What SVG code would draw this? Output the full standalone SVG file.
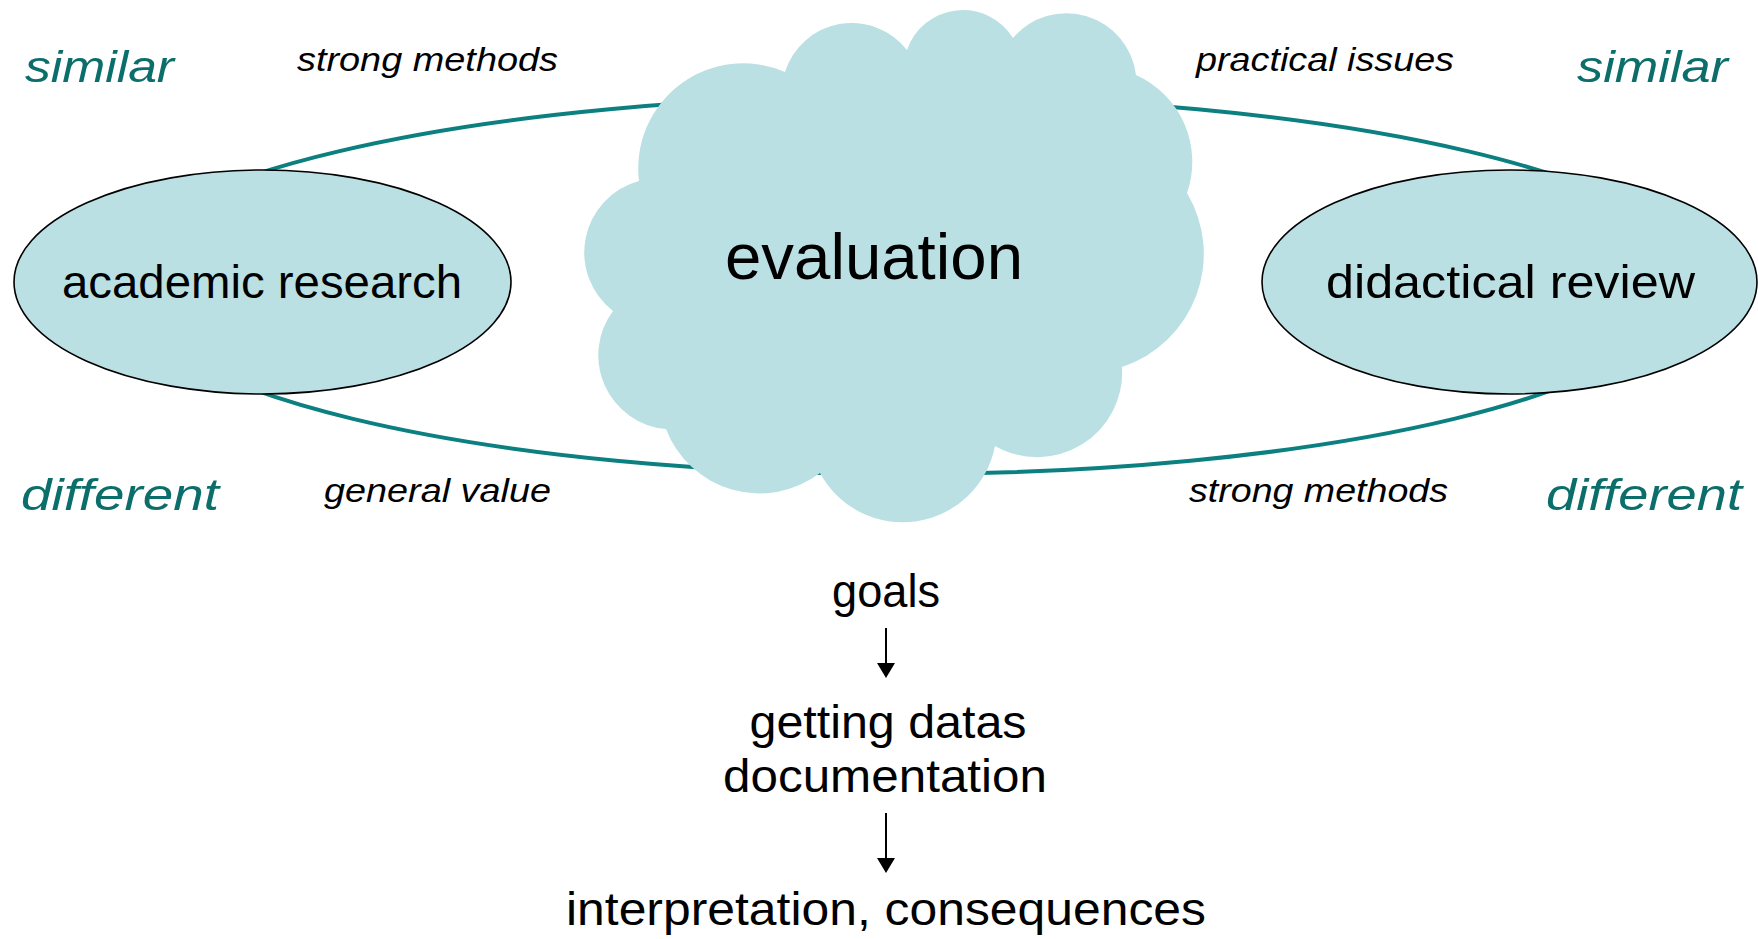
<svg xmlns="http://www.w3.org/2000/svg" width="1758" height="939" viewBox="0 0 1758 939">
<defs>
<style>
.bg{fill:#ffffff}
.loop{fill:none;stroke:#0c8080;stroke-width:4}
.node{fill:#bae0e3;stroke:#000000;stroke-width:1.6}
.cloud{fill:#bae0e3;stroke:none}
text{font-family:"Liberation Sans Narrow","Liberation Sans",Arial,sans-serif;fill:#000000}
.main{font-size:46px}
.big{font-size:64px}
.lab{font-size:33px;font-style:italic}
.cmp{font-size:45px;font-style:italic;fill:#0b6e6b}
.mid{text-anchor:middle}
.arr{stroke:#000000;stroke-width:2;fill:none}
</style>
<marker id="ah" markerWidth="15" markerHeight="18" refX="5" refY="9" orient="auto" markerUnits="userSpaceOnUse" viewBox="0 0 15 18">
<path d="M0,0 L15,9 L0,18 Z" fill="#000000"/>
</marker>
</defs>
<rect class="bg" x="0" y="0" width="1758" height="939"/>
<g id="connectors">
<path class="loop" d="M104.5,285 A799,189 0 0 1 1702.5,285 L1683.5,285 A780,189 0 0 1 123.5,285 Z"/>
<line class="arr" x1="886" y1="628" x2="886" y2="668" marker-end="url(#ah)"/>
<line class="arr" x1="886" y1="813" x2="886" y2="863" marker-end="url(#ah)"/>
</g>
<g id="node-academic">
<ellipse class="node" cx="262.5" cy="282" rx="248.5" ry="112"/>
<text class="main" x="62" y="298" textLength="400" lengthAdjust="spacingAndGlyphs">academic research</text>
</g>
<g id="node-didactical">
<ellipse class="node" cx="1509.5" cy="282" rx="247.5" ry="112"/>
<text class="main" x="1326" y="298" textLength="369" lengthAdjust="spacingAndGlyphs">didactical review</text>
</g>
<g id="node-evaluation">
<path class="cloud" d="M639,181 A105,105 0 0 1 785,72 A70,70 0 0 1 907,50 A59,59 0 0 1 1013,38 A70,70 0 0 1 1136,75 A95,95 0 0 1 1187,193 A119,119 0 0 1 1122,367 A85,85 0 0 1 995,446 A94,94 0 0 1 820,473 A100,100 0 0 1 666,429 A74,74 0 0 1 613,311 A74,74 0 0 1 639,181 Z"/>
<text class="big" x="725" y="279" textLength="298" lengthAdjust="spacingAndGlyphs">evaluation</text>
</g>
<g id="labels">
<text class="cmp" x="25" y="82" textLength="149" lengthAdjust="spacingAndGlyphs">similar</text>
<text class="cmp" x="1577" y="82" textLength="151" lengthAdjust="spacingAndGlyphs">similar</text>
<text class="cmp" x="21" y="510" textLength="198" lengthAdjust="spacingAndGlyphs">different</text>
<text class="cmp" x="1546" y="510" textLength="196" lengthAdjust="spacingAndGlyphs">different</text>
<text class="lab" x="297" y="71" textLength="261" lengthAdjust="spacingAndGlyphs">strong methods</text>
<text class="lab" x="1196" y="71" textLength="258" lengthAdjust="spacingAndGlyphs">practical issues</text>
<text class="lab" x="324" y="502" textLength="227" lengthAdjust="spacingAndGlyphs">general value</text>
<text class="lab" x="1189" y="502" textLength="259" lengthAdjust="spacingAndGlyphs">strong methods</text>
</g>
<g id="node-goals">
<text class="main mid" x="886" y="607" textLength="108" lengthAdjust="spacingAndGlyphs">goals</text>
</g>
<g id="node-data">
<text class="main mid" x="888" y="738" textLength="277" lengthAdjust="spacingAndGlyphs">getting datas</text>
<text class="main mid" x="885" y="792" textLength="324" lengthAdjust="spacingAndGlyphs">documentation</text>
</g>
<g id="node-interpretation">
<text class="main mid" x="886" y="925" textLength="640" lengthAdjust="spacingAndGlyphs">interpretation, consequences</text>
</g>
</svg>
